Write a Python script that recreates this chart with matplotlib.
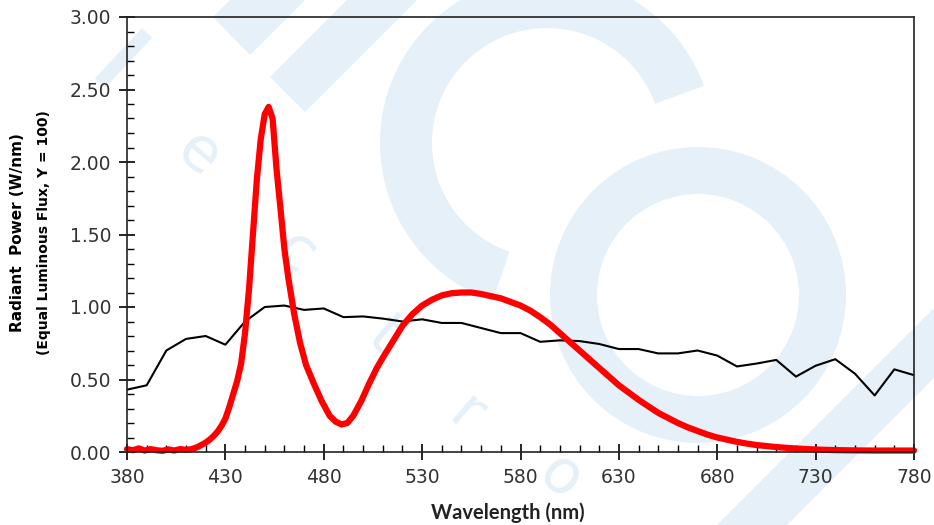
import matplotlib
matplotlib.use("Agg")
import matplotlib.pyplot as plt
import numpy as np
from matplotlib.patches import Wedge, Polygon
from matplotlib.ticker import FixedLocator, MultipleLocator, FormatStrFormatter

# reference illuminant, every 10 nm
wl_ref = [380, 390, 400, 410, 420, 430, 440, 450, 460, 470, 480, 490, 500, 510, 520,
          530, 540, 550, 560, 570, 580, 590, 600, 610, 620, 630, 640, 650, 660, 670,
          680, 690, 700, 710, 720, 730, 740, 750, 760, 770, 780]
ref_power = [0.43, 0.46, 0.70, 0.78, 0.80, 0.74, 0.90, 1.00, 1.01, 0.98, 0.99, 0.93, 0.935, 0.92, 0.90,
             0.915, 0.89, 0.89, 0.855, 0.82, 0.82, 0.76, 0.77, 0.765, 0.745, 0.71, 0.71, 0.68, 0.68, 0.70,
             0.665, 0.59, 0.61, 0.635, 0.52, 0.595, 0.64, 0.54, 0.39, 0.57, 0.53]

# white LED spectrum
wl_led = [380, 383, 386, 389, 392, 395, 398, 401, 404, 407, 410, 413, 416, 418, 420,
          422, 424, 426, 428, 430, 432, 434, 436, 438, 440, 442, 444, 446, 448, 450,
          452, 454, 456, 458, 460, 462, 465, 468, 471, 475, 479, 483, 486, 489, 492,
          495, 499, 503, 507, 510, 515, 520, 525, 530, 535, 540, 545, 550, 555, 560,
          565, 570, 575, 580, 585, 590, 595, 600, 605, 610, 615, 620, 625, 630, 635,
          640, 645, 650, 655, 660, 665, 670, 675, 680, 685, 690, 695, 700, 710, 720,
          730, 740, 750, 760, 770, 780]
led_power = [0.02, 0.012, 0.025, 0.01, 0.02, 0.012, 0.008, 0.018, 0.01, 0.02, 0.015, 0.02, 0.035, 0.05, 0.065,
             0.085, 0.11, 0.14, 0.18, 0.23, 0.31, 0.40, 0.49, 0.61, 0.82, 1.12, 1.50, 1.88, 2.16, 2.33,
             2.38, 2.30, 1.95, 1.68, 1.40, 1.20, 0.95, 0.75, 0.60, 0.47, 0.35, 0.25, 0.21, 0.19, 0.20,
             0.25, 0.35, 0.47, 0.58, 0.65, 0.76, 0.87, 0.95, 1.01, 1.05, 1.08, 1.095, 1.10, 1.10, 1.09,
             1.075, 1.06, 1.035, 1.01, 0.975, 0.93, 0.88, 0.82, 0.76, 0.70, 0.64, 0.58, 0.52, 0.46, 0.41,
             0.36, 0.315, 0.27, 0.235, 0.20, 0.17, 0.145, 0.12, 0.10, 0.085, 0.07, 0.058, 0.048, 0.034, 0.024,
             0.017, 0.013, 0.011, 0.01, 0.01, 0.01]

W, H = 934, 525
fig = plt.figure(figsize=(W / 100, H / 100), dpi=100)

# faint watermark behind the chart (pixel coords, y down)
bg = fig.add_axes([0, 0, 1, 1], zorder=0)
bg.set_xlim(0, W)
bg.set_ylim(H, 0)
bg.axis("off")
wm = "#e6f0f8"
bg.add_patch(Wedge((547, 143), 167, 109, 340, width=52, color=wm, lw=0))
bg.add_patch(Wedge((698, 295), 148, 0, 360, width=47, color=wm, lw=0))
bg.add_patch(Polygon([(213, 17), (250, 55), (305, 0), (230, 0)], color=wm, lw=0))
bg.add_patch(Polygon([(270, 77), (305, 112), (417, 0), (347, 0)], color=wm, lw=0))
bg.add_patch(Polygon([(717, 525), (787, 525), (934, 378), (934, 308)], color=wm, lw=0))
bg.plot([100, 147], [83, 33], color=wm, lw=10, solid_capstyle="butt")
for ch, x, y in [("e", 198, 155), ("c", 295, 253), ("t", 384, 336), ("r", 466, 415), ("o", 560, 478)]:
    bg.text(x, y, ch, color=wm, fontsize=44, rotation=-40, ha="center", va="center",
            rotation_mode="anchor")

ax = fig.add_axes([127 / W, 1 - 452 / H, (914 - 127) / W, (452 - 17) / H], zorder=1)
ax.set_facecolor("none")

ax.plot(wl_ref, ref_power, color="black", lw=1.5)
ax.plot(wl_led, led_power, color="#ff0000", lw=4.5, clip_on=False,
        solid_joinstyle="round", solid_capstyle="round")

ax.set_xlim(380, 780)
ax.set_ylim(0, 3)
ax.xaxis.set_major_locator(FixedLocator(np.arange(380, 781, 50)))
ax.xaxis.set_minor_locator(FixedLocator(np.arange(380, 781, 10)))
ax.yaxis.set_major_locator(MultipleLocator(0.5))
ax.yaxis.set_minor_locator(MultipleLocator(0.1))
ax.yaxis.set_major_formatter(FormatStrFormatter("%.2f"))
ax.tick_params(which="major", direction="inout", length=11, width=1.2,
               labelsize=13.5, labelcolor="#333333", pad=6)
ax.tick_params(which="minor", direction="in", length=5, width=1.0)
for s in ax.spines.values():
    s.set_linewidth(1.2)
    s.set_color("#222222")

fig.text(18 / W, 1 - 233 / H, "Radiant  Power (W/nm)", rotation=90, ha="center", va="center",
         fontsize=11, fontweight="bold")
fig.text(44 / W, 1 - 233 / H, "(Equal Luminous Flux, Y = 100)", rotation=90, ha="center",
         va="center", fontsize=10, fontweight="bold")
fig.text(508 / W, 1 - 513 / H, "Wavelength (nm)", ha="center", va="center",
         fontsize=14.5, fontweight="bold", color="#222222", family="Lato")

fig.savefig("out.png", dpi=100)
